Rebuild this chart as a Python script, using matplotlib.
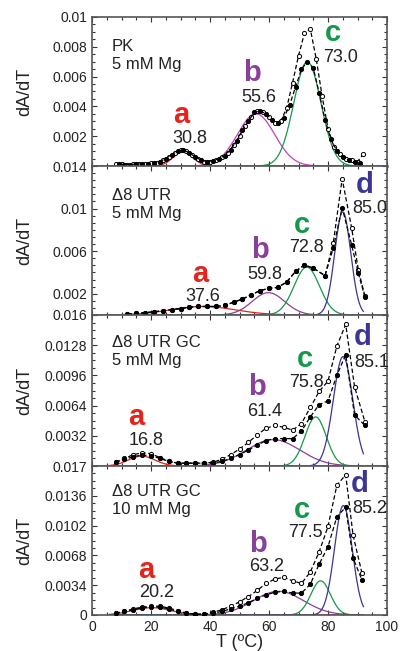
import matplotlib
matplotlib.use("Agg")
import matplotlib.pyplot as plt
import numpy as np
from matplotlib.ticker import FixedLocator, MultipleLocator

plt.rcParams['font.family'] = ['Liberation Sans', 'DejaVu Sans']

# ---- PK, 5 mM Mg ----
pk_t_open = [8, 10, 12, 14, 16, 18, 20, 22, 24, 26, 28, 30, 32, 34, 36, 38, 40, 42, 44, 46, 48,
             50, 52, 54, 56, 58, 60, 62, 64, 66, 68, 70, 72, 74, 76, 78, 80, 82, 84, 86, 88, 90, 92]
pk_open = [0.00012, 0.00012, 0.0001, 0.00012, 0.00014, 0.00015, 0.00018, 0.00022, 0.0004, 0.00062,
           0.0009, 0.00105, 0.001, 0.00075, 0.00045, 0.0003, 0.0003, 0.0004, 0.0006, 0.0009, 0.0014,
           0.002, 0.0027, 0.0033, 0.0037, 0.0036, 0.0033, 0.0029, 0.003, 0.0039, 0.0056, 0.0074,
           0.0089, 0.0092, 0.0072, 0.0047, 0.0025, 0.0013, 0.0008, 0.0005, 0.0004, 0.0003, 0.0008]
pk_t_filled = [9, 11, 13, 15, 17, 19, 21, 23, 25, 27, 29, 31, 33, 35, 37, 39, 41, 43, 45, 47, 49,
               51, 53, 55, 57, 59, 61, 63, 65, 67, 69, 71, 73, 75, 77, 79, 81, 83, 85, 87, 89, 91]
pk_filled = [0.00012, 0.0001, 0.0001, 0.00013, 0.00014, 0.00016, 0.0002, 0.0003, 0.0005, 0.00075,
             0.001, 0.00105, 0.0009, 0.0006, 0.0004, 0.0003, 0.00035, 0.0005, 0.0007, 0.0011, 0.0017,
             0.0024, 0.003, 0.0036, 0.0037, 0.0035, 0.0031, 0.0029, 0.0032, 0.0041, 0.0053, 0.0065,
             0.0070, 0.0066, 0.0049, 0.0031, 0.0018, 0.001, 0.0006, 0.0004, 0.0003, 0.0002]
pk_peaks = [30.8, 55.6, 73.0]
pk_amp = [0.00095, 0.0035, 0.0070]
pk_width = [3.3, 6.3, 4.6]

# ---- d8 UTR, 5 mM Mg ----
utr_t = [12, 15, 18, 21, 24, 27, 30, 33, 36, 39, 42, 45, 48, 51, 54, 57, 60, 63, 66, 69, 72, 75,
         79, 81.8, 84.8, 88, 90.3, 92.5]
utr_open = [0.0001, 0.00015, 0.00022, 0.0003, 0.0004, 0.0005, 0.0006, 0.00075, 0.0008, 0.0008,
            0.0008, 0.0009, 0.0012, 0.0015, 0.0019, 0.0023, 0.0025, 0.0026, 0.0031, 0.0041, 0.0047,
            0.0044, 0.0037, 0.0068, 0.0128, 0.0082, 0.0042, 0.0018]
utr_filled = [0.0001, 0.00015, 0.00022, 0.0003, 0.0004, 0.0005, 0.0006, 0.00075, 0.0008, 0.0008,
              0.0008, 0.0009, 0.0012, 0.0015, 0.0019, 0.0023, 0.0025, 0.0026, 0.0031, 0.0041, 0.0047,
              0.0044, 0.0037, 0.0063, 0.0101, 0.0066, 0.0039, 0.0017]
utr_peaks = [37.6, 59.8, 72.8, 85.0]
utr_amp = [0.0008, 0.0021, 0.0045, 0.0097]
utr_width = [11.0, 5.5, 4.3, 2.7]

# ---- d8 UTR GC, 5 mM Mg ----
gc5_t = [8, 11, 14, 17, 20, 23, 26, 29, 32, 35, 38, 41, 44, 47, 50, 53, 56, 59, 62, 65, 68, 71,
         74, 77, 80, 83, 86, 89, 92.5]
gc5_open = [0.0004, 0.0008, 0.0012, 0.0014, 0.0013, 0.0009, 0.0005, 0.0003, 0.0003, 0.0003, 0.0003,
            0.0004, 0.0007, 0.0012, 0.0018, 0.0025, 0.0033, 0.004, 0.0043, 0.0041, 0.0038, 0.0045,
            0.0062, 0.0079, 0.0090, 0.0127, 0.0150, 0.0084, 0.0047]
gc5_filled = [0.0004, 0.0007, 0.001, 0.00115, 0.0011, 0.0008, 0.0005, 0.0003, 0.0003, 0.0003,
              0.0003, 0.0003, 0.0005, 0.0008, 0.0012, 0.0017, 0.0022, 0.0027, 0.0029, 0.0029,
              0.0029, 0.0037, 0.0052, 0.0065, 0.0069, 0.0096, 0.0118, 0.0054, 0.0043]
gc5_peaks = [16.8, 61.4, 75.8, 85.1]
gc5_amp = [0.00105, 0.0028, 0.0052, 0.0116]
gc5_width = [4.5, 9.0, 3.6, 3.3]

# ---- d8 UTR GC, 10 mM Mg ----
gc10_t = [8, 11, 14, 17, 20, 23, 26, 29, 32, 35, 38, 41, 44, 47, 50, 53, 56, 59, 62, 65, 68, 71,
          74, 77, 80, 83, 86, 88.5, 91.5]
gc10_open = [0.0002, 0.0004, 0.0007, 0.0009, 0.001, 0.001, 0.0008, 0.0005, 0.0002, 0.0001, 0.0001,
             0.0003, 0.0006, 0.001, 0.0015, 0.0021, 0.0028, 0.0036, 0.0041, 0.0043, 0.0039, 0.0036,
             0.0049, 0.0072, 0.0101, 0.0148, 0.0160, 0.0091, 0.0048]
gc10_filled = [0.0002, 0.0004, 0.0006, 0.0008, 0.0009, 0.0009, 0.0007, 0.0004, 0.0002, 0.0001,
               0.0001, 0.0002, 0.0004, 0.0007, 0.001, 0.0014, 0.0019, 0.0023, 0.0026, 0.0027,
               0.0025, 0.0025, 0.0035, 0.0058, 0.0078, 0.0112, 0.0123, 0.0065, 0.004]
gc10_peaks = [20.2, 63.2, 77.5, 85.2]
gc10_amp = [0.00084, 0.0027, 0.0039, 0.0125]
gc10_width = [6.5, 8.5, 3.3, 3.0]

RED, PURPLE, MAGENTA, GREEN, BLUE = '#e3231c', '#8a3f9b', '#c23fbf', '#16984a', '#3b3595'

panels = [
    dict(t_open=pk_t_open, open=pk_open, t_filled=pk_t_filled, filled=pk_filled,
         peaks=pk_peaks, amp=pk_amp, width=pk_width, ymax=0.01,
         ticks=[0.002, 0.004, 0.006, 0.008, 0.01],
         labels=['0.002', '0.004', '0.006', '0.008', '0.01'], minor=0.0005,
         name='PK\n5 mM Mg', name_y=0.85,
         curve_colors=[RED, MAGENTA, GREEN],
         tags=[(30.4, 0.00287), (54.1, 0.0057), (81.8, 0.0084)],
         nums=[(33.2, 0.00157), (56.4, 0.00432), (84.1, 0.0070)]),
    dict(t_open=utr_t, open=utr_open, t_filled=utr_t, filled=utr_filled,
         peaks=utr_peaks, amp=utr_amp, width=utr_width, ymax=0.014,
         ticks=[0.002, 0.006, 0.01, 0.014],
         labels=['0.002', '0.006', '0.01', '0.014'], minor=0.004 / 6,
         name='\u03948 UTR\n5 mM Mg', name_y=0.855,
         curve_colors=[RED, PURPLE, GREEN, BLUE],
         tags=[(36.6, 0.00313), (56.9, 0.00532), (71.1, 0.00767), (92.5, 0.01143)],
         nums=[(37.6, 0.00132), (58.6, 0.00338), (72.8, 0.00595), (94.2, 0.00955)]),
    dict(t_open=gc5_t, open=gc5_open, t_filled=gc5_t, filled=gc5_filled,
         peaks=gc5_peaks, amp=gc5_amp, width=gc5_width, ymax=0.016,
         ticks=[0.0032, 0.0064, 0.0096, 0.0128, 0.016],
         labels=['0.0032', '0.0064', '0.0096', '0.0128', '0.016'], minor=0.0008,
         name='\u03948 UTR GC\n5 mM Mg', name_y=0.87,
         curve_colors=[RED, PURPLE, GREEN, BLUE],
         tags=[(15.1, 0.00434), (55.8, 0.00752), (72.2, 0.01053), (91.9, 0.01282)],
         nums=[(18.5, 0.00223), (58.6, 0.0053), (72.8, 0.0084), (94.8, 0.01053)]),
    dict(t_open=gc10_t, open=gc10_open, t_filled=gc10_t, filled=gc10_filled,
         peaks=gc10_peaks, amp=gc10_amp, width=gc10_width, ymax=0.017,
         ticks=[0, 0.0034, 0.0068, 0.0102, 0.0136, 0.017],
         labels=['0', '0.0034', '0.0068', '0.0102', '0.0136', '0.017'], minor=0.00085,
         name='\u03948 UTR GC\n10 mM Mg', name_y=0.88,
         curve_colors=[RED, PURPLE, GREEN, BLUE],
         tags=[(18.5, 0.00426), (56.4, 0.00723), (71.1, 0.01103), (90.8, 0.01407)],
         nums=[(21.9, 0.00209), (59.2, 0.00502), (72.2, 0.00894), (94.2, 0.0116)]),
]

tag_letters = ['a', 'b', 'c', 'd']
tag_colors = [RED, PURPLE, GREEN, BLUE]

W, H = 404, 651
fig = plt.figure(figsize=(W / 100, H / 100), dpi=100)
left, right = 92 / W, 387 / W
edges = [17, 166, 315, 466, 615]

for i, p in enumerate(panels):
    bottom = 1 - edges[i + 1] / H
    height = (edges[i + 1] - edges[i]) / H
    ax = fig.add_axes([left, bottom, right - left, height])
    ax.set_xlim(0, 100)
    ax.set_ylim(0, p['ymax'])

    # peak components
    t_fit = np.linspace(6, 92, 300)
    for k, (tm, a, w) in enumerate(zip(p['peaks'], p['amp'], p['width'])):
        y = a * np.exp(-0.5 * ((t_fit - tm) / w) ** 2)
        ax.plot(t_fit, y, color=p['curve_colors'][k], lw=0.9, zorder=2)

    # measured derivatives
    ax.plot(p['t_open'], p['open'], color='black', lw=0.9, dashes=(3.5, 2), zorder=3,
            marker='o', ms=3.0, mfc='white', mec='black', mew=0.7)
    ax.plot(p['t_filled'], p['filled'], color='black', lw=0.9, dashes=(3.5, 2), zorder=3,
            marker='o', ms=3.0, mfc='black', mec='black', mew=0.7)

    for k, (tm, (tx, ty), (nx, ny)) in enumerate(zip(p['peaks'], p['tags'], p['nums'])):
        ax.text(tx, ty, tag_letters[k], color=tag_colors[k], fontsize=21, fontweight='bold',
                ha='center', va='baseline', zorder=5)
        ax.text(nx, ny, f'{tm:.1f}', color='#222222', fontsize=13, ha='center',
                va='baseline', zorder=5)

    ax.text(0.067, p['name_y'], p['name'], transform=ax.transAxes, fontsize=12,
            color='#222222', ha='left', va='top', linespacing=1.25)

    ax.yaxis.set_major_locator(FixedLocator(p['ticks']))
    ax.set_yticklabels(p['labels'])
    ax.yaxis.set_minor_locator(MultipleLocator(p['minor']))
    ax.xaxis.set_major_locator(MultipleLocator(20))
    ax.xaxis.set_minor_locator(MultipleLocator(5))
    ax.tick_params(which='both', direction='in', top=True, right=True, width=0.8,
                   colors='#333333', labelcolor='#222222', labelsize=10)
    ax.tick_params(which='major', length=3.5)
    ax.tick_params(which='minor', length=2.5)
    for s in ax.spines.values():
        s.set_color('#555555')
        s.set_linewidth(1.2)
    if i < 3:
        ax.tick_params(labelbottom=False)
        ax.spines['bottom'].set_color('#808080')
        ax.spines['bottom'].set_linewidth(2.0)
    else:
        ax.set_xlabel('T (\u00baC)', fontsize=13, color='#222222', labelpad=0)
    ax.set_ylabel('dA/dT', fontsize=13, color='#222222')
    ax.yaxis.set_label_coords(-0.2, 0.5)

fig.savefig('out.png', dpi=100)
